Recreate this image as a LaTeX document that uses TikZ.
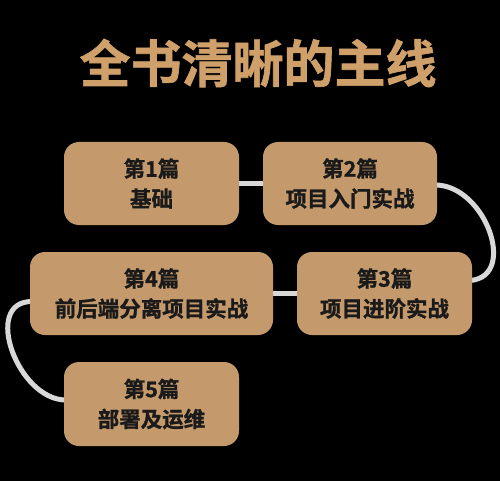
\documentclass[tikz,border=0pt]{standalone}
\usepackage{fontspec}
\newfontfamily\cjk{Noto Sans CJK SC}[BoldFont={Noto Sans CJK SC Bold}, BoldFeatures={FakeBold=1.2}]
\usetikzlibrary{backgrounds}
\definecolor{tan}{HTML}{C49A6C}
\definecolor{titlec}{HTML}{CFA069}
\definecolor{linec}{HTML}{D8D8D8}
\definecolor{ink}{HTML}{1A1A1A}
\tikzset{
  partbox/.style={fill=tan, rounded corners=15pt, minimum height=83pt, align=center,
    text=ink, font=\cjk\bfseries\fontsize{21.5}{30}\selectfont, inner sep=0pt},
  conn/.style={draw=linec, line width=5pt}
}
\begin{document}
\begin{tikzpicture}[x=1pt,y=-1pt]
\begin{pgfonlayer}{background}
\fill[black] (0,0) rectangle (500,481);
\end{pgfonlayer}
\useasboundingbox (0,0) rectangle (500,481);
\node[text=titlec, font=\cjk\bfseries\fontsize{51}{51}\selectfont] (title) at (258,63) {全书清晰的主线};
\node[partbox, minimum width=175pt] (b1) at (151.5,183.5) {第1篇\\基础};
\node[partbox, minimum width=174pt] (b2) at (350,183.5) {第2篇\\项目入门实战};
\node[partbox, minimum width=175pt] (b3) at (384.5,293.5) {第3篇\\项目进阶实战};
\node[partbox, minimum width=243pt] (b4) at (151.5,293.5) {第4篇\\前后端分离项目实战};
\node[partbox, minimum width=175pt, minimum height=84pt] (b5) at (151.5,404) {第5篇\\部署及运维};
\begin{pgfonlayer}{background}
\draw[conn] (b1.east) -- (b2.west);
\draw[conn] ([xshift=-2pt,yshift=-1.5pt]b2.east) .. controls +(50,0) and +(48,-4) .. ([xshift=-2pt,yshift=13pt]b3.east);
\draw[conn] (b3.west) -- (b4.east);
\draw[conn] ([xshift=2pt,yshift=-8pt]b4.west) .. controls +(-50,0) and +(-48,0) .. ([xshift=2pt,yshift=4pt]b5.west);
\end{pgfonlayer}
\end{tikzpicture}
\end{document}
